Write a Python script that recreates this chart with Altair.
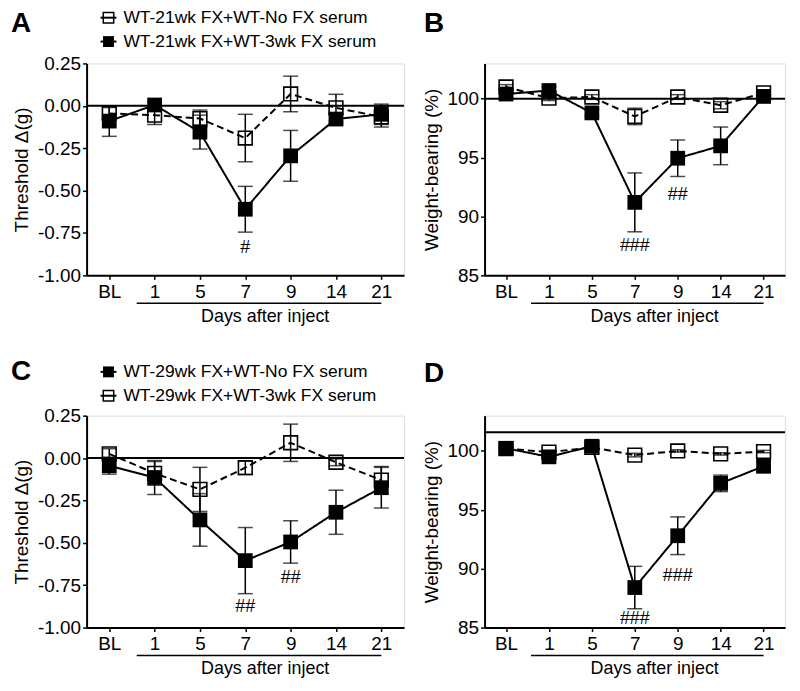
import altair as alt
import pandas as pd

FONT = "Liberation Sans"
days = ["BL", "1", "5", "7", "9", "14", "21"]

# Panel A (threshold, 21wk)
A_open_mean = [-0.045, -0.055, -0.075, -0.19, 0.07, -0.012, -0.065]
A_open_err = [0.035, 0.055, 0.05, 0.14, 0.105, 0.08, 0.06]
A_fill_mean = [-0.09, 0.005, -0.155, -0.61, -0.295, -0.078, -0.05]
A_fill_err = [0.09, 0.02, 0.1, 0.135, 0.15, 0.03, 0.06]
A_legend = ["WT-21wk FX+WT-No FX serum", "WT-21wk FX+WT-3wk FX serum"]
A_annot_day = ["7"]
A_annot_y = [-0.84]
A_annot_txt = ["#"]

# Panel B (weight-bearing, 21wk)
B_open_mean = [101.0, 100.05, 100.15, 98.5, 100.15, 99.45, 100.5]
B_open_err = [0.2, 0.2, 0.2, 0.7, 0.2, 0.3, 0.2]
B_fill_mean = [100.4, 100.7, 98.8, 91.2, 94.95, 96.0, 100.2]
B_fill_err = [0.3, 0.3, 0.3, 2.5, 1.55, 1.6, 0.2]
B_annot_day = ["7", "9"]
B_annot_y = [87.5, 91.85]
B_annot_txt = ["###", "##"]

# Panel C (threshold, 29wk)
C_fill_mean = [-0.045, -0.115, -0.365, -0.605, -0.495, -0.32, -0.175]
C_fill_err = [0.05, 0.1, 0.155, 0.195, 0.125, 0.13, 0.12]
C_open_mean = [0.025, -0.09, -0.185, -0.057, 0.09, -0.025, -0.13]
C_open_err = [0.03, 0.07, 0.13, 0.04, 0.11, 0.02, 0.08]
C_legend = ["WT-29wk FX+WT-No FX serum", "WT-29wk FX+WT-3wk FX serum"]
C_annot_day = ["7", "9"]
C_annot_y = [-0.88, -0.71]
C_annot_txt = ["##", "##"]

# Panel D (weight-bearing, 29wk)
D_fill_mean = [100.23, 99.5, 100.4, 88.4, 92.8, 97.25, 98.7]
D_fill_err = [0.2, 0.2, 0.2, 1.8, 1.6, 0.7, 0.45]
D_open_mean = [100.2, 99.9, 100.3, 99.65, 100.0, 99.75, 99.95]
D_open_err = [0.1, 0.1, 0.1, 0.15, 0.1, 0.1, 0.1]
D_annot_day = ["7", "9"]
D_annot_y = [85.7, 89.35]
D_annot_txt = ["###", "###"]

thr_ticks = [-1.0, -0.75, -0.5, -0.25, 0.0, 0.25]
wb_ticks = [85, 90, 95, 100]

H = 213


def make_df(mean, err):
    return pd.DataFrame({
        "day": days,
        "mean": mean,
        "lo": [m - e for m, e in zip(mean, err)],
        "hi": [m + e for m, e in zip(mean, err)],
        "order": list(range(len(days))),
    })


def panel(letter, open_mean, open_err, fill_mean, fill_err, ydomain, yticks,
          ylabelexpr, ytitle, ref, width, ann_day, ann_y, ann_txt,
          legend=None, legend_open_first=True, letter_x=-76, letter_y=-40,
          legend_y=(-50, -23)):
    xscale = alt.Scale(domain=days, type="point", padding=0.5)
    xaxis = alt.Axis(title=None, labelAngle=0, labelFontSize=19, labelFont=FONT,
                     labelColor="black", domainColor="black", domainWidth=2,
                     tickColor="black", tickWidth=1.5, tickSize=4, labelPadding=3,
                     grid=False)
    yscale = alt.Scale(domain=ydomain, nice=False, zero=False)
    yaxis = alt.Axis(title=ytitle, values=yticks, labelExpr=ylabelexpr,
                     labelFontSize=19, labelFont=FONT, labelColor="black",
                     titleFontSize=19, titleFont=FONT, titleFontWeight="normal",
                     titleColor="black", titlePadding=6, domainColor="black",
                     domainWidth=2, tickColor="black", tickWidth=1.5, tickSize=4,
                     labelPadding=2, grid=False)

    def X(f="day"):
        return alt.X(f, type="nominal", scale=xscale, axis=xaxis)

    def Y(f):
        return alt.Y(f, type="quantitative", scale=yscale, axis=yaxis)

    d_open = make_df(open_mean, open_err)
    d_fill = make_df(fill_mean, fill_err)

    layers = []
    layers.append(alt.Chart(pd.DataFrame({"v": [ref]})).mark_rule(
        color="black", strokeWidth=2).encode(y=Y("v")))

    for d, dash in ((d_open, [7, 4]), (d_fill, [1, 0])):
        layers.append(alt.Chart(d).mark_line(color="black", strokeWidth=2,
                                             strokeDash=dash).encode(
            x=X(), y=Y("mean"), order="order:Q"))

    # open squares (hollow)
    layers.append(alt.Chart(d_open).mark_point(
        shape="square", filled=False, stroke="black", strokeWidth=1.6,
        size=190, opacity=1).encode(x=X(), y=Y("mean")))

    for d in (d_open, d_fill):
        layers.append(alt.Chart(d).mark_rule(color="black", strokeWidth=1.5).encode(
            x=X(), y=Y("lo"), y2="hi"))
        layers.append(alt.Chart(d).mark_tick(color="black", thickness=1.5,
                                             size=15, orient="horizontal").encode(
            x=X(), y=Y("lo")))
        layers.append(alt.Chart(d).mark_tick(color="black", thickness=1.5,
                                             size=15, orient="horizontal").encode(
            x=X(), y=Y("hi")))

    layers.append(alt.Chart(d_fill).mark_point(
        shape="square", filled=True, color="black", size=220,
        opacity=1).encode(x=X(), y=Y("mean")))

    # significance marks
    ann = pd.DataFrame({"day": ann_day, "mean": ann_y, "t": ann_txt})
    layers.append(alt.Chart(ann).mark_text(font=FONT, fontSize=18, color="black",
                                           baseline="middle").encode(
        x=X(), y=Y("mean"), text="t:N"))

    # underline + x title
    ul = pd.DataFrame({"day": ["1"], "day2": ["21"]})
    layers.append(alt.Chart(ul).mark_rule(color="black", strokeWidth=1.5,
                                          xOffset=-18).encode(
        x=X(), x2="day2", y=alt.value(H + 28)))
    xt = pd.DataFrame({"day": ["7"], "t": ["Days after inject"]})
    layers.append(alt.Chart(xt).mark_text(font=FONT, fontSize=18, color="black",
                                          baseline="middle", dx=20).encode(
        x=X(), y=alt.value(H + 42), text="t:N"))

    # panel letter
    layers.append(alt.Chart(pd.DataFrame({"t": [letter]})).mark_text(
        font=FONT, fontSize=28, fontWeight="bold", color="black", align="left",
        baseline="middle").encode(x=alt.value(letter_x), y=alt.value(letter_y),
                                  text="t:N"))

    # legend
    if legend is not None:
        kinds = ["open", "fill"] if legend_open_first else ["fill", "open"]
        for lab, kind, ly in zip(legend, kinds, legend_y):
            ldf = pd.DataFrame({"t": [lab]})
            layers.append(alt.Chart(ldf).mark_rule(color="black", strokeWidth=2).encode(
                x=alt.value(14), x2=alt.value(30), y=alt.value(ly)))
            if kind == "open":
                layers.append(alt.Chart(ldf).mark_point(
                    shape="square", filled=False, stroke="black", strokeWidth=1.5,
                    size=110, opacity=1).encode(x=alt.value(22), y=alt.value(ly)))
            else:
                layers.append(alt.Chart(ldf).mark_point(
                    shape="square", filled=True, color="black", size=120,
                    opacity=1).encode(x=alt.value(22), y=alt.value(ly)))
            layers.append(alt.Chart(ldf).mark_text(
                font=FONT, fontSize=17.5, color="black", align="left",
                baseline="middle").encode(x=alt.value(37), y=alt.value(ly), text="t:N"))

    return alt.layer(*layers).properties(width=width, height=H)


thr_expr = "replace(format(datum.value, '.2f'), '\u2212', '-')"
wb_expr = "format(datum.value, 'd')"

pA = panel("A", A_open_mean, A_open_err, A_fill_mean, A_fill_err, [-1.0, 0.25],
           thr_ticks, thr_expr, "Threshold \u0394(g)", 0.0, 319,
           A_annot_day, A_annot_y, A_annot_txt, legend=A_legend,
           legend_open_first=True, letter_x=-76, letter_y=-40, legend_y=(-46, -22))
pB = panel("B", B_open_mean, B_open_err, B_fill_mean, B_fill_err, [85, 103],
           wb_ticks, wb_expr, "Weight-bearing (%)", 100.0, 302,
           B_annot_day, B_annot_y, B_annot_txt, letter_x=-61, letter_y=-40)
pC = panel("C", C_open_mean, C_open_err, C_fill_mean, C_fill_err, [-1.0, 0.25],
           thr_ticks, thr_expr, "Threshold \u0394(g)", 0.0, 319,
           C_annot_day, C_annot_y, C_annot_txt, legend=C_legend,
           legend_open_first=False, letter_x=-76, letter_y=-44, legend_y=(-44, -20))
pD = panel("D", D_open_mean, D_open_err, D_fill_mean, D_fill_err, [85, 103],
           wb_ticks, wb_expr, "Weight-bearing (%)", 101.6, 302,
           D_annot_day, D_annot_y, D_annot_txt, letter_x=-61, letter_y=-42)

chart = alt.concat(pA, pB, pC, pD, columns=2,
                   spacing={"row": 141, "column": 81}, bounds="flush").properties(
    padding={"left": 2, "top": -2, "right": 5, "bottom": 5}
).configure_view(stroke=None).configure(background="white")

chart.save("out.html", embed_options={"renderer": "svg", "actions": False})
